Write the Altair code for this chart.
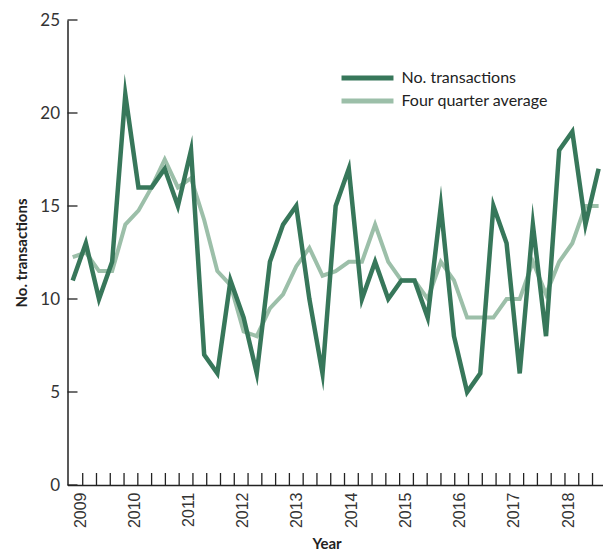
import altair as alt
import pandas as pd

# ---- data (quarterly, 2009 Q1 onwards) ----
quarters = [f"{y} Q{q}" for y in range(2009, 2020) for q in range(1, 5)][:41]
transactions = [11, 13, 10, 12, 21, 16, 16, 17, 15, 18,
                7, 6, 11, 9, 6, 12, 14, 15, 10, 6,
                15, 17, 10, 12, 10, 11, 11, 9, 15, 8,
                5, 6, 15, 13, 6, 14, 8, 18, 19, 14, 17]
four_qtr_avg = [12.25, 12.5, 11.5, 11.5, 14, 14.75, 16, 17.5, 16, 16.5,
                14.25, 11.5, 10.75, 8.25, 8, 9.5, 10.25, 11.75, 12.75, 11.25,
                11.5, 12, 12, 14, 12, 11, 11, 10, 12, 11,
                9, 9, 9, 10, 10, 12, 10.25, 12, 13, 15, 15]
series_names = ["No. transactions", "Four quarter average"]
year_labels = ["2009", "2010", "2011", "2012", "2013",
               "2014", "2015", "2016", "2017", "2018"]
y_ticks = [0, 5, 10, 15, 20, 25]

# ---- layout (axis positions in quarter-index units) ----
LBL0, LBLSTEP = 0.556, 4.124
label_pos = [LBL0 + LBLSTEP * k for k in range(len(year_labels))]
tick_pos = [0.761 + 1.048 * j for j in range(39)]

DARK = "#37775A"
LIGHT = "#9CBFA9"
W, H = 539, 465
FONT = "Lato"

rows = []
for i, q in enumerate(quarters):
    rows.append({"quarter": q, "idx": i, "value": transactions[i], "series": series_names[0]})
    rows.append({"quarter": q, "idx": i, "value": four_qtr_avg[i], "series": series_names[1]})
df = pd.DataFrame(rows)

xscale = alt.Scale(domain=[-0.396, 40.6], nice=False, zero=False)
yscale = alt.Scale(domain=[0, 25], nice=False)

label_arr = "[" + ",".join(f"'{s}'" for s in year_labels) + "]"
xaxis = alt.Axis(
    values=label_pos,
    labelExpr=f"{label_arr}[round((datum.value - {LBL0}) / {LBLSTEP})]",
    ticks=False, grid=False, labelAngle=270, labelAlign="right",
    labelBaseline="middle", labelPadding=7, labelFont="Liberation Sans",
    labelFontSize=16, labelColor="#333333", labelOverlap=False,
    title="Year", titleFont=FONT, titleFontSize=15, titleFontWeight="bold",
    titleColor="#222222", titlePadding=9, titleX=259, titleAnchor="start",
    titleAlign="center",
)
yaxis = alt.Axis(
    values=y_ticks, ticks=False, grid=False, labelPadding=8,
    labelFont=FONT, labelFontSize=17, labelColor="#333333",
    title="No. transactions", titleFont=FONT, titleFontSize=15,
    titleFontWeight="bold", titleColor="#222222", titlePadding=10,
)

color = alt.Color(
    "series:N",
    scale=alt.Scale(domain=series_names, range=[DARK, LIGHT]),
    legend=alt.Legend(
        title=None, orient="none", legendX=292, legendY=50,
        symbolType="M-5,0L5,0", symbolSize=108, symbolStrokeWidth=5,
        labelFont=FONT, labelFontSize=16, labelColor="#222222",
        labelOffset=26, rowPadding=3, padding=0,
    ),
)

base = alt.Chart(df)
light = base.transform_filter(alt.datum.series == series_names[1]).mark_line(
    strokeWidth=4, strokeJoin="miter", strokeMiterLimit=10
).encode(
    x=alt.X("idx:Q", scale=xscale, axis=xaxis),
    y=alt.Y("value:Q", scale=yscale, axis=yaxis),
    color=color,
    order="idx:Q",
)
dark = base.transform_filter(alt.datum.series == series_names[0]).mark_line(
    strokeWidth=4.5, strokeJoin="miter", strokeMiterLimit=10
).encode(
    x=alt.X("idx:Q", scale=xscale, axis=xaxis),
    y=alt.Y("value:Q", scale=yscale, axis=yaxis),
    color=color,
    order="idx:Q",
)

xt = alt.Chart(pd.DataFrame({"t": tick_pos})).mark_rule(color="#222222", strokeWidth=1.3).encode(
    x=alt.X("t:Q", scale=xscale, axis=xaxis),
    y=alt.value(H - 12), y2=alt.value(H),
)
yt = alt.Chart(pd.DataFrame({"v": y_ticks})).mark_rule(color="#222222", strokeWidth=1.3).encode(
    y=alt.Y("v:Q", scale=yscale, axis=yaxis),
    x=alt.value(0), x2=alt.value(10),
)

chart = alt.layer(xt, yt, light, dark).properties(
    width=W, height=H,
    autosize=alt.AutoSizeParams(type="none"),
    padding={"left": 59.5, "top": 12, "right": -3.5, "bottom": 66},
).configure_view(stroke=None).configure_axis(
    domainColor="#222222", domainWidth=1.5,
)

chart.save("out.html", embed_options={"renderer": "svg", "actions": False})
